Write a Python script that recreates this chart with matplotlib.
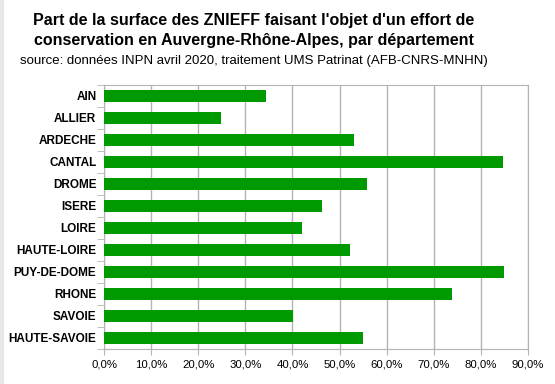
import matplotlib.pyplot as plt
import matplotlib.ticker as mticker
import numpy as np

# departements, top to bottom
departements = ['AIN', 'ALLIER', 'ARDECHE', 'CANTAL', 'DROME', 'ISERE', 'LOIRE',
                'HAUTE-LOIRE', 'PUY-DE-DOME', 'RHONE', 'SAVOIE', 'HAUTE-SAVOIE']
part = [34.4, 24.9, 53.1, 84.6, 55.9, 46.3, 42.1, 52.3, 85.0, 73.8, 40.2, 55.0]
x_ticks = [0, 10, 20, 30, 40, 50, 60, 70, 80, 90]

plt.rcParams['font.family'] = ['Liberation Sans', 'DejaVu Sans']

fig = plt.figure(figsize=(5.55, 3.84), dpi=100)
# light grey edge on the left of the original image
fig.patches.append(plt.Rectangle((0, 0), 3 / 555, 1, transform=fig.transFigure,
                                 color='#e8e8e8', zorder=0))
ax = fig.add_axes([104 / 555, 1 - 349 / 384, (528 - 104) / 555, (349 - 85) / 384])

y = np.arange(len(departements))
ax.barh(y, part, height=0.55, color='#009900', zorder=3)

ax.set_xlim(0, 90)
ax.set_ylim(len(departements) - 0.5, -0.5)
ax.set_xticks(x_ticks)
ax.xaxis.set_major_formatter(mticker.FuncFormatter(lambda v, p: f'{v:.1f}%'.replace('.', ',')))
ax.set_yticks(y)
ax.set_yticklabels(departements, fontweight='bold', fontsize=8.5)
ax.set_yticks(np.arange(len(departements) + 1) - 0.5, minor=True)

ax.grid(axis='x', color='#b3b3b3', linewidth=1, zorder=0)
for s in ax.spines.values():
    s.set_color('#b3b3b3')
ax.tick_params(axis='x', colors='#b3b3b3', labelcolor='black', labelsize=8.2, length=4)
ax.tick_params(axis='y', which='major', length=0, pad=5.5)
ax.tick_params(axis='y', which='minor', length=5, color='#b3b3b3')

xc = 254 / 555
fig.text(xc, 1 - 20 / 384, "Part de la surface des ZNIEFF faisant l'objet d'un effort de",
         ha='center', va='center', fontsize=11.5, fontweight='bold')
fig.text(xc, 1 - 40 / 384, "conservation en Auvergne-Rhône-Alpes, par département",
         ha='center', va='center', fontsize=11.5, fontweight='bold')
fig.text(xc, 1 - 61 / 384, "source: données INPN avril 2020, traitement UMS Patrinat (AFB-CNRS-MNHN)",
         ha='center', va='center', fontsize=9.5)

fig.savefig('out.png', dpi=100)
